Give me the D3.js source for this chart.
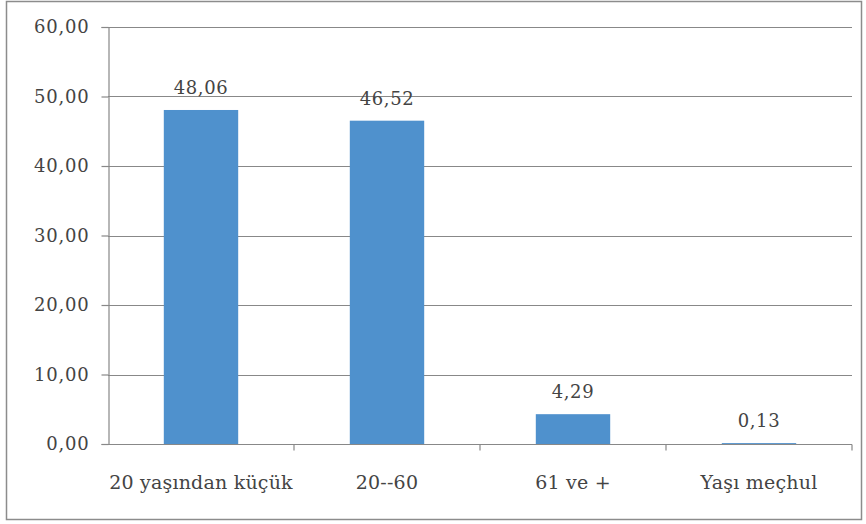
<!DOCTYPE html>
<html><head><meta charset="utf-8">
<script src="https://cdn.jsdelivr.net/npm/d3@7"></script>
<style>body{margin:0;background:#fff}svg{display:block}</style>
</head><body>
<script>
const categories = ["20 yaşından küçük", "20--60", "61 ve +", "Yaşı meçhul"];
const values = [48.06, 46.52, 4.29, 0.13];
const yTicks = [0, 10, 20, 30, 40, 50, 60];

const W = 866, H = 524;
const m = {left: 108, right: 14, top: 27, bottom: 80};
const svg = d3.select("body").append("svg").attr("width", W).attr("height", H);
const font = "'DejaVu Serif', serif";
const fmt = v => v.toFixed(2).replace(".", ",");

svg.append("rect").attr("x", 6.5).attr("y", 1.5).attr("width", 855).attr("height", 518)
  .attr("fill", "#fff").attr("stroke", "#8c8c8c").attr("stroke-width", 1.5);

const x = d3.scaleBand().domain(categories).range([m.left, W - m.right]).paddingInner(0.6).paddingOuter(0.3);
const xOuter = d3.scaleBand().domain(categories).range([m.left, W - m.right]);
const y = d3.scaleLinear().domain([0, 60]).range([H - m.bottom, m.top]);

// gridlines
svg.append("g").selectAll("line").data(yTicks.filter(d => d > 0)).join("line")
  .attr("x1", m.left).attr("x2", W - m.right)
  .attr("y1", d => Math.round(y(d)) + 0.5).attr("y2", d => Math.round(y(d)) + 0.5)
  .attr("stroke", "#888").attr("stroke-width", 1.2);

// y axis
const ya = svg.append("g").attr("transform", `translate(${m.left + 0.5},0)`)
  .call(d3.axisLeft(y).tickValues(yTicks).tickFormat(fmt).tickSizeOuter(0).tickSize(7).tickPadding(12));
ya.select(".domain").attr("stroke", "#888").attr("stroke-width", 1.2);
ya.selectAll(".tick line").attr("stroke", "#888").attr("stroke-width", 1.2);
ya.selectAll("text").attr("font-family", font).attr("font-size", 18).attr("fill", "#444").attr("letter-spacing", 0.8);

// x axis
const xa = svg.append("g").attr("transform", `translate(0,${Math.round(y(0)) + 0.5})`);
xa.append("line").attr("x1", m.left).attr("x2", W - m.right).attr("stroke", "#888").attr("stroke-width", 1.2);
xa.selectAll("line.t").data(categories).join("line").attr("class", "t")
  .attr("x1", d => xOuter(d) + xOuter.bandwidth()).attr("x2", d => xOuter(d) + xOuter.bandwidth())
  .attr("y1", 0).attr("y2", 6).attr("stroke", "#888").attr("stroke-width", 1.2);
xa.selectAll("text").data(categories).join("text")
  .attr("x", d => xOuter(d) + xOuter.bandwidth() / 2).attr("y", 44)
  .attr("text-anchor", "middle").attr("font-family", font).attr("font-size", 19)
  .attr("fill", "#444").attr("letter-spacing", 0.2).text(d => d);

// bars
svg.append("g").selectAll("rect").data(values).join("rect")
  .attr("x", (d, i) => x(categories[i])).attr("width", x.bandwidth())
  .attr("y", d => y(d)).attr("height", d => y(0) - y(d))
  .attr("fill", "#4F91CD");

// value labels
svg.append("g").selectAll("text").data(values).join("text")
  .attr("x", (d, i) => x(categories[i]) + x.bandwidth() / 2).attr("y", d => y(d) - 16)
  .attr("text-anchor", "middle").attr("font-family", font).attr("font-size", 18)
  .attr("fill", "#444").attr("letter-spacing", 0.6).text(fmt);
</script>
</body></html>
